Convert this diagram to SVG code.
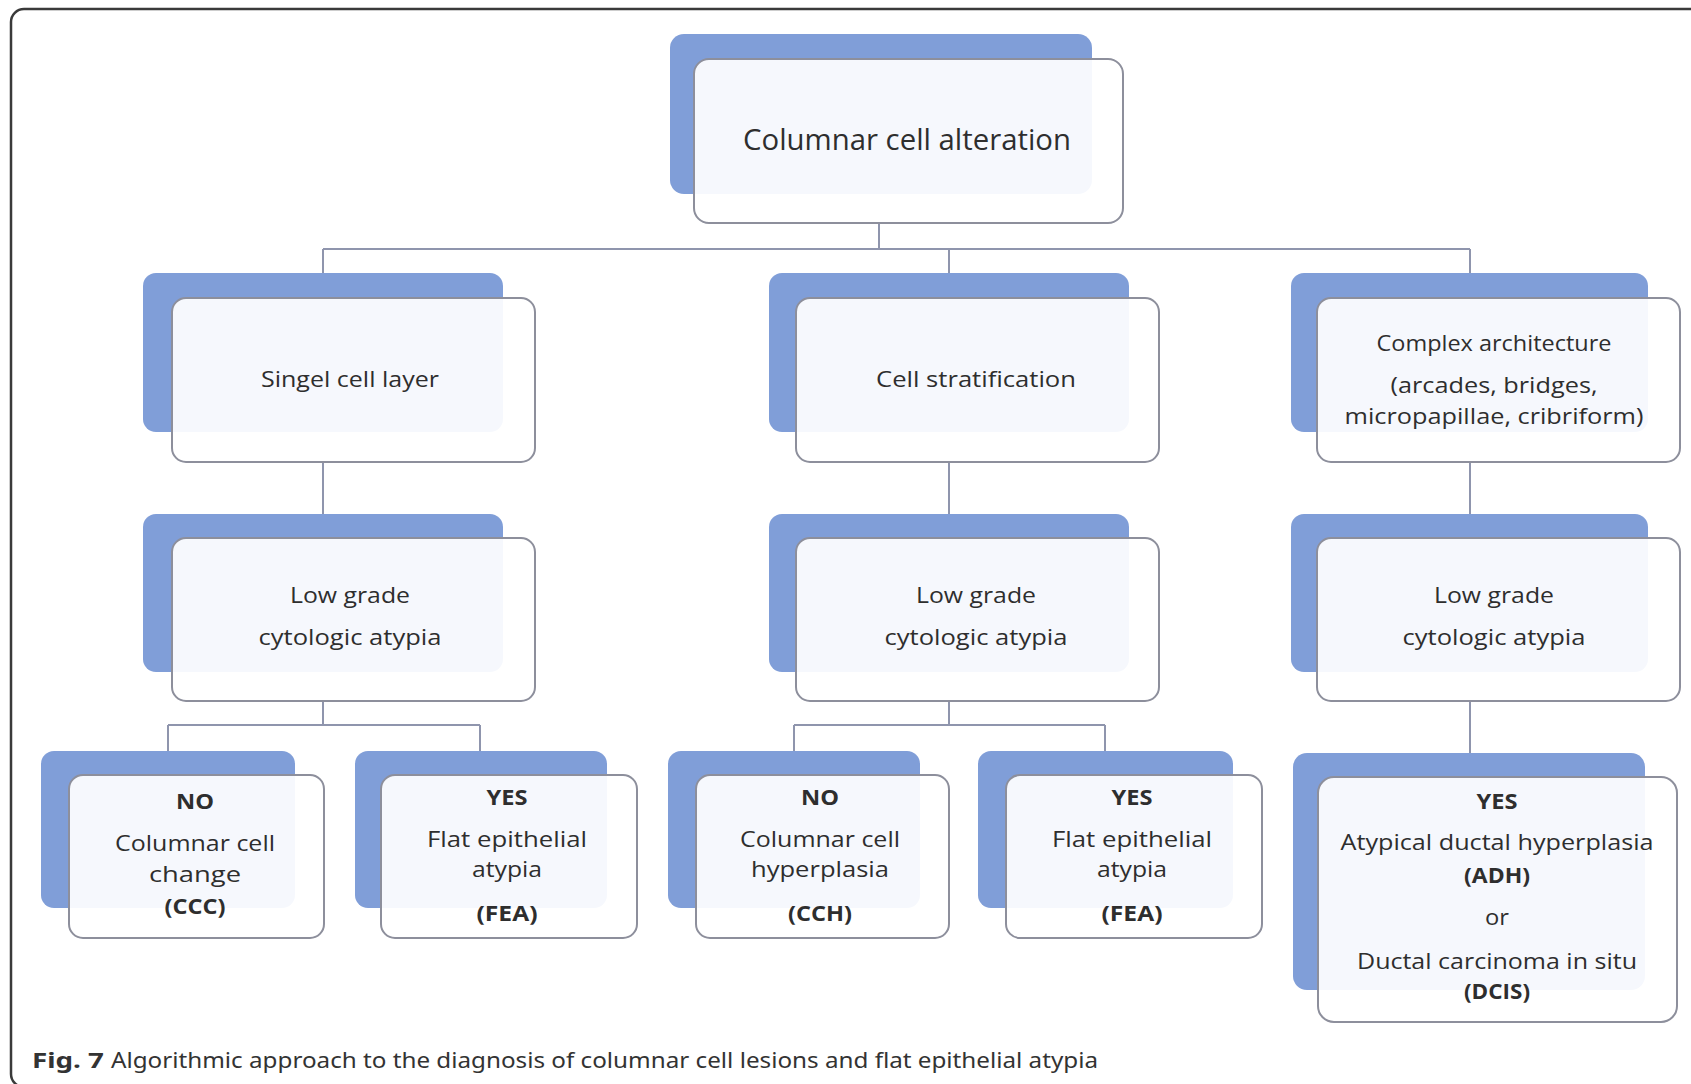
<svg xmlns="http://www.w3.org/2000/svg" width="1691" height="1084" viewBox="0 0 1691 1084">
<style>
.bg{fill:#809ed8}
.fg{fill:#ffffff;fill-opacity:0.93;stroke:#8d8f9c;stroke-width:2}
.t{font-family:"Open Sans","Noto Sans",sans-serif;fill:#2e2e2e;text-anchor:middle}
.b{font-weight:bold}
.c{fill:none;stroke:#8f95ad;stroke-width:2}
.cap{font-family:"Noto Sans","Liberation Sans",sans-serif;fill:#333;font-size:21px}
</style>
<rect x="0" y="0" width="1691" height="1084" fill="#ffffff"/>
<rect x="11" y="9" width="1720" height="1078" rx="13" fill="none" stroke="#3a3a3a" stroke-width="2.5"/>

<g id="connectors">
<path class="c" d="M879 223 V249 M323 249 H1470 M323 249 V273 M949 249 V273 M1470 249 V273"/>
<path class="c" d="M323 462 V514 M949 462 V514 M1470 462 V514"/>
<path class="c" d="M323 701 V725 M168 725 H480 M168 725 V751 M480 725 V751"/>
<path class="c" d="M949 701 V725 M794 725 H1105 M794 725 V751 M1105 725 V751"/>
<path class="c" d="M1470 701 V753"/>
</g>

<g id="n-root">
<rect class="bg" x="670" y="34" width="422" height="160" rx="14"/>
<rect class="fg" x="694" y="59" width="429" height="164" rx="15"/>
<text class="t" x="907" y="150" font-size="30" textLength="328" lengthAdjust="spacingAndGlyphs">Columnar cell alteration</text>
</g>

<g id="n-single">
<rect class="bg" x="143" y="273" width="360" height="159" rx="13"/>
<rect class="fg" x="172" y="298" width="363" height="164" rx="14"/>
<text class="t" x="350" y="387" font-size="21" textLength="178" lengthAdjust="spacingAndGlyphs">Singel cell layer</text>
</g>

<g id="n-strat">
<rect class="bg" x="769" y="273" width="360" height="159" rx="13"/>
<rect class="fg" x="796" y="298" width="363" height="164" rx="14"/>
<text class="t" x="976" y="387" font-size="21" textLength="200" lengthAdjust="spacingAndGlyphs">Cell stratification</text>
</g>

<g id="n-complex">
<rect class="bg" x="1291" y="273" width="357" height="159" rx="13"/>
<rect class="fg" x="1317" y="298" width="363" height="164" rx="14"/>
<text class="t" x="1494" y="351" font-size="21" textLength="235" lengthAdjust="spacingAndGlyphs">Complex architecture</text>
<text class="t" x="1494" y="393" font-size="21" textLength="207" lengthAdjust="spacingAndGlyphs">(arcades, bridges,</text>
<text class="t" x="1494" y="424" font-size="21" textLength="299" lengthAdjust="spacingAndGlyphs">micropapillae, cribriform)</text>
</g>

<g id="n-low1">
<rect class="bg" x="143" y="514" width="360" height="158" rx="13"/>
<rect class="fg" x="172" y="538" width="363" height="163" rx="14"/>
<text class="t" x="350" y="603" font-size="21" textLength="120" lengthAdjust="spacingAndGlyphs">Low grade</text>
<text class="t" x="350" y="645" font-size="21" textLength="183" lengthAdjust="spacingAndGlyphs">cytologic atypia</text>
</g>

<g id="n-low2">
<rect class="bg" x="769" y="514" width="360" height="158" rx="13"/>
<rect class="fg" x="796" y="538" width="363" height="163" rx="14"/>
<text class="t" x="976" y="603" font-size="21" textLength="120" lengthAdjust="spacingAndGlyphs">Low grade</text>
<text class="t" x="976" y="645" font-size="21" textLength="183" lengthAdjust="spacingAndGlyphs">cytologic atypia</text>
</g>

<g id="n-low3">
<rect class="bg" x="1291" y="514" width="357" height="158" rx="13"/>
<rect class="fg" x="1317" y="538" width="363" height="163" rx="14"/>
<text class="t" x="1494" y="603" font-size="21" textLength="120" lengthAdjust="spacingAndGlyphs">Low grade</text>
<text class="t" x="1494" y="645" font-size="21" textLength="183" lengthAdjust="spacingAndGlyphs">cytologic atypia</text>
</g>

<g id="n-ccc">
<rect class="bg" x="41" y="751" width="254" height="157" rx="13"/>
<rect class="fg" x="69" y="775" width="255" height="163" rx="14"/>
<text class="t b" x="195" y="809" font-size="21" textLength="38" lengthAdjust="spacingAndGlyphs">NO</text>
<text class="t" x="195" y="851" font-size="21" textLength="160" lengthAdjust="spacingAndGlyphs">Columnar cell</text>
<text class="t" x="195" y="882" font-size="21" textLength="92" lengthAdjust="spacingAndGlyphs">change</text>
<text class="t b" x="195" y="914" font-size="21" textLength="61" lengthAdjust="spacingAndGlyphs">(CCC)</text>
</g>

<g id="n-fea1">
<rect class="bg" x="355" y="751" width="252" height="157" rx="13"/>
<rect class="fg" x="381" y="775" width="256" height="163" rx="14"/>
<text class="t b" x="507" y="805" font-size="21" textLength="41" lengthAdjust="spacingAndGlyphs">YES</text>
<text class="t" x="507" y="847" font-size="21" textLength="160" lengthAdjust="spacingAndGlyphs">Flat epithelial</text>
<text class="t" x="507" y="877" font-size="21" textLength="70" lengthAdjust="spacingAndGlyphs">atypia</text>
<text class="t b" x="507" y="921" font-size="21" textLength="61" lengthAdjust="spacingAndGlyphs">(FEA)</text>
</g>

<g id="n-cch">
<rect class="bg" x="668" y="751" width="252" height="157" rx="13"/>
<rect class="fg" x="696" y="775" width="253" height="163" rx="14"/>
<text class="t b" x="820" y="805" font-size="21" textLength="38" lengthAdjust="spacingAndGlyphs">NO</text>
<text class="t" x="820" y="847" font-size="21" textLength="160" lengthAdjust="spacingAndGlyphs">Columnar cell</text>
<text class="t" x="820" y="877" font-size="21" textLength="138" lengthAdjust="spacingAndGlyphs">hyperplasia</text>
<text class="t b" x="820" y="921" font-size="21" textLength="64" lengthAdjust="spacingAndGlyphs">(CCH)</text>
</g>

<g id="n-fea2">
<rect class="bg" x="978" y="751" width="255" height="157" rx="13"/>
<rect class="fg" x="1006" y="775" width="256" height="163" rx="14"/>
<text class="t b" x="1132" y="805" font-size="21" textLength="41" lengthAdjust="spacingAndGlyphs">YES</text>
<text class="t" x="1132" y="847" font-size="21" textLength="160" lengthAdjust="spacingAndGlyphs">Flat epithelial</text>
<text class="t" x="1132" y="877" font-size="21" textLength="70" lengthAdjust="spacingAndGlyphs">atypia</text>
<text class="t b" x="1132" y="921" font-size="21" textLength="61" lengthAdjust="spacingAndGlyphs">(FEA)</text>
</g>

<g id="n-adh">
<rect class="bg" x="1293" y="753" width="352" height="237" rx="14"/>
<rect class="fg" x="1318" y="777" width="359" height="245" rx="16"/>
<text class="t b" x="1497" y="809" font-size="21" textLength="41" lengthAdjust="spacingAndGlyphs">YES</text>
<text class="t" x="1497" y="850" font-size="21" textLength="313" lengthAdjust="spacingAndGlyphs">Atypical ductal hyperplasia</text>
<text class="t b" x="1497" y="883" font-size="21" textLength="66" lengthAdjust="spacingAndGlyphs">(ADH)</text>
<text class="t" x="1497" y="925" font-size="21" textLength="24" lengthAdjust="spacingAndGlyphs">or</text>
<text class="t" x="1497" y="969" font-size="21" textLength="280" lengthAdjust="spacingAndGlyphs">Ductal carcinoma in situ</text>
<text class="t b" x="1497" y="999" font-size="21" textLength="66" lengthAdjust="spacingAndGlyphs">(DCIS)</text>
</g>

<text class="cap" x="32" y="1068"><tspan font-weight="bold" textLength="72" lengthAdjust="spacingAndGlyphs">Fig. 7</tspan><tspan x="111" textLength="987" lengthAdjust="spacingAndGlyphs">Algorithmic approach to the diagnosis of columnar cell lesions and flat epithelial atypia</tspan></text>
</svg>
